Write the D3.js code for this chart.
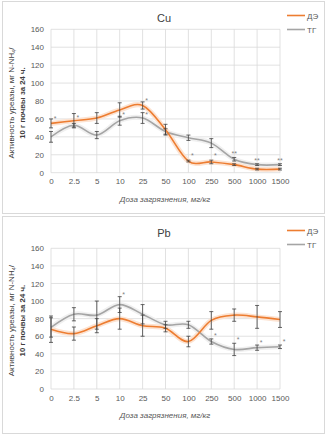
<!DOCTYPE html>
<html>
<head>
<meta charset="utf-8">
<script src="https://cdn.jsdelivr.net/npm/d3@7"></script>
<style>
  body { margin: 0; background: #fff; }
  text { font-family: "Liberation Sans", Arial, sans-serif; }
</style>
</head>
<body>
<svg width="326" height="435" id="mainsvg"></svg>
<script>
// categories (dose, mg/kg)
const doses = ['0', '2.5', '5', '10', '25', '50', '100', '250', '500', '1000', '1500'];
const yTicks = [0, 20, 40, 60, 80, 100, 120, 140, 160];

// Cu
const cuDE    = [55, 58, 61, 70, 75, 48, 13, 12, 9, 4, 4];
const cuDEerr = [5, 8, 6, 8, 4, 6, 1, 2, 1, 1, 1];
const cuTG    = [40, 53, 42, 58, 61, 46, 39, 33, 15, 9, 9];
const cuTGerr = [6, 2, 4, 5, 6, 3, 3, 5, 2, 1, 1];
const cuStars = [['0', 62, '*'], ['2.5', 63, '*'], ['10', 66, '*'], ['25', 82, '*'], ['25', 66, '*'],
                 ['100', 20, '*'], ['250', 20, '*'], ['500', 23, '**'], ['1000', 15, '**'], ['1500', 15, '**']];

// Pb
const pbDE    = [68, 63, 72, 80, 72, 69, 54, 78, 84, 82, 79];
const pbDEerr = [15, 7.5, 8, 12, 12, 4, 6, 10, 7, 13, 9];
const pbTG    = [70, 85, 84, 96, 85, 73, 73, 54, 45, 47, 48];
const pbTGerr = [11, 7.5, 16, 9, 11, 4, 4, 3, 7, 3, 2];
const pbStars = [['10', 109, '*'], ['250', 62, '*'], ['500', 57, '*'], ['1000', 54, '*'], ['1500', 55, '*']];

const ORANGE = '#ed7d31', GRAY = '#a5a5a5';
const svg = d3.select('#mainsvg');

function drawPanel(opt) {
  const g = svg.append('g');
  // panel frame
  g.append('rect').attr('x', 2.5).attr('y', opt.top + 0.5).attr('width', 322).attr('height', opt.h)
    .attr('fill', '#fff').attr('stroke', '#d9d9d9');

  const x = d3.scalePoint().domain(doses).range([51, 280]);
  const y = d3.scaleLinear().domain([0, 160]).range([opt.y1, opt.y0]);

  // grid
  g.append('g').selectAll('line.h').data(yTicks).join('line')
    .attr('x1', 51).attr('x2', 280).attr('y1', d => y(d)).attr('y2', d => y(d))
    .attr('stroke', '#d9d9d9').attr('stroke-width', 0.8);
  g.append('g').selectAll('line.v').data(doses).join('line')
    .attr('x1', d => x(d)).attr('x2', d => x(d)).attr('y1', opt.y0).attr('y2', opt.y1)
    .attr('stroke', '#d9d9d9').attr('stroke-width', 0.8);

  // axes (labels only, Excel style)
  const ya = g.append('g').attr('transform', 'translate(44,0)')
    .call(d3.axisLeft(y).tickValues(yTicks).tickSize(0).tickPadding(0));
  ya.select('.domain').remove();
  ya.selectAll('text').attr('font-size', 8).attr('fill', '#595959').attr('font-family', '"Liberation Sans", Arial, sans-serif');

  const xa = g.append('g').attr('transform', `translate(0,${opt.y1 + 6})`)
    .call(d3.axisBottom(x).tickSize(0).tickPadding(0));
  xa.select('.domain').remove();
  xa.selectAll('text').attr('font-size', 8).attr('fill', '#595959').attr('font-family', '"Liberation Sans", Arial, sans-serif');

  // titles
  g.append('text').text(opt.title).attr('x', 164).attr('y', opt.top + 21)
    .attr('text-anchor', 'middle').attr('font-size', 11).attr('fill', '#404040');
  g.append('text').text('Доза загрязнения, мг/кг').attr('x', 165).attr('y', opt.y1 + 29)
    .attr('text-anchor', 'middle').attr('font-size', 8).attr('font-style', 'italic').attr('fill', '#595959');

  const cy = (opt.y0 + opt.y1) / 2 + 2;
  const l1 = g.append('text').attr('transform', `translate(13.5,${cy}) rotate(-90)`)
    .attr('text-anchor', 'middle').attr('font-size', 8).attr('fill', '#404040');
  l1.append('tspan').text('Активность уреазы, мг N-NH');
  l1.append('tspan').text('4').attr('font-size', 5.5).attr('dy', 2);
  l1.append('tspan').text('/').attr('dy', -2);
  g.append('text').attr('transform', `translate(25,${cy}) rotate(-90)`)
    .attr('text-anchor', 'middle').attr('font-size', 7.8).attr('font-weight', 'bold').attr('fill', '#404040')
    .text('10 г почвы за 24 ч.');

  const line = d3.line().x((d, i) => x(doses[i])).y(d => y(d)).curve(d3.curveCardinal.tension(0));

  // soft glow under the lines
  [[opt.tg, '#f0f0f0'], [opt.de, '#fce3d2']].forEach(([vals, glow]) => {
    g.append('path').datum(vals).attr('d', line).attr('fill', 'none')
      .attr('stroke', glow).attr('stroke-width', 5);
  });
  [[opt.tg, GRAY], [opt.de, ORANGE]].forEach(([vals, col]) => {
    g.append('path').datum(vals).attr('d', line).attr('fill', 'none')
      .attr('stroke', col).attr('stroke-width', 1.6);
  });
  // error bars
  [[opt.tg, opt.tgErr], [opt.de, opt.deErr]].forEach(([vals, errs]) => {
    vals.forEach((v, i) => {
      const cx = x(doses[i]);
      const eb = g.append('g').attr('stroke', '#404040').attr('stroke-width', 0.8);
      eb.append('line').attr('x1', cx).attr('x2', cx).attr('y1', y(v - errs[i])).attr('y2', y(v + errs[i]));
      [v - errs[i], v + errs[i]].forEach(e => {
        eb.append('line').attr('x1', cx - 2).attr('x2', cx + 2).attr('y1', y(e)).attr('y2', y(e));
      });
    });
  });
  // significance marks
  g.append('g').selectAll('text').data(opt.stars).join('text')
    .attr('x', d => x(d[0]) + (d[2] === '*' ? 4 : 0)).attr('y', d => y(d[1]) + 3.5)
    .attr('text-anchor', 'middle').attr('font-size', 7).attr('fill', '#7f7f7f')
    .text(d => d[2]);

  // legend
  [['ДЭ', ORANGE, opt.top + 14.5], ['ТГ', GRAY, opt.top + 28.5]].forEach(([name, col, ly]) => {
    g.append('line').attr('x1', 287).attr('x2', 305).attr('y1', ly).attr('y2', ly)
      .attr('stroke', col).attr('stroke-width', 1.6);
    g.append('text').text(name).attr('x', 307).attr('y', ly + 3)
      .attr('font-size', 8).attr('fill', '#595959');
  });
}

drawPanel({top: 1, h: 212, y0: 29.3, y1: 172.7, title: 'Cu',
  de: cuDE, deErr: cuDEerr, tg: cuTG, tgErr: cuTGerr, stars: cuStars});
drawPanel({top: 216, h: 217, y0: 248.3, y1: 389, title: 'Pb',
  de: pbDE, deErr: pbDEerr, tg: pbTG, tgErr: pbTGerr, stars: pbStars});
</script>
</body>
</html>
